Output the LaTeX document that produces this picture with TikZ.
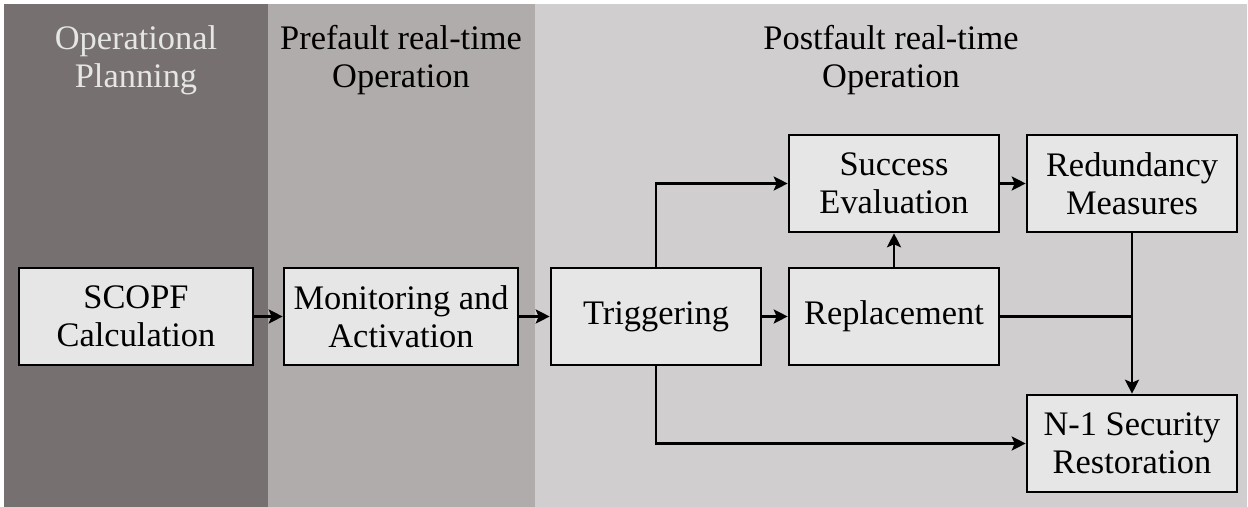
\documentclass[tikz,border=0pt]{standalone}
\usepackage{fontspec}
\setmainfont{Liberation Serif}
\usetikzlibrary{arrows.meta}
\definecolor{planbg}{RGB}{118,113,112}
\definecolor{prebg}{RGB}{176,172,171}
\definecolor{postbg}{RGB}{208,206,207}
\definecolor{boxfill}{RGB}{230,230,230}
\tikzset{
  block/.style={draw, line width=1.3pt, fill=boxfill, align=center,
    minimum width=105pt, minimum height=48.5pt, inner sep=0pt,
    font=\fontsize{17.2}{19}\selectfont},
  wideblock/.style={minimum width=117pt},
  phase/.style={align=center, font=\fontsize{17.2}{19}\selectfont},
  flow/.style={line width=1.2pt, -{Stealth[length=7pt,width=7pt,inset=1.5pt]}},
  link/.style={line width=1.2pt},
}
\begin{document}
\begin{tikzpicture}[x=0.5pt,y=-0.5pt]
  \useasboundingbox (0,0) rectangle (1248,507);
  % phase backgrounds
  \fill[planbg] (4,4) rectangle (268,507);
  \fill[prebg] (268,4) rectangle (535,507);
  \fill[postbg] (535,4) rectangle (1247,507);
  \node[phase, text=boxfill] (plan) at (136,60) {Operational\\Planning};
  \node[phase] (pre) at (401,60) {Prefault real-time\\Operation};
  \node[phase] (post) at (891,60) {Postfault real-time\\Operation};
  % blocks
  \node[block, wideblock] (scopf) at (136,316.5) {SCOPF\\Calculation};
  \node[block, wideblock] (moni) at (401,316.5) {Monitoring and\\Activation};
  \node[block] (trig) at (656,316.5) {Triggering};
  \node[block] (repl) at (894,316.5) {Replacement};
  \node[block] (succ) at (894,183.5) {Success\\Evaluation};
  \node[block] (redu) at (1132,183.5) {Redundancy\\Measures};
  \node[block] (secu) at (1132,443.5) {N-1 Security\\Restoration};
  % connectors
  \draw[flow] (scopf) -- (moni);
  \draw[flow] (moni) -- (trig);
  \draw[flow] (trig) -- (repl);
  \draw[flow] (trig.north) |- (succ.west);
  \draw[flow] (repl) -- (succ);
  \draw[flow] (succ) -- (redu);
  \draw[flow] (redu) -- (secu);
  \draw[flow] (trig.south) |- (secu.west);
  \coordinate (join) at (redu.south |- repl.east);
  \draw[link] (repl.east) -- (join);
\end{tikzpicture}
\end{document}
